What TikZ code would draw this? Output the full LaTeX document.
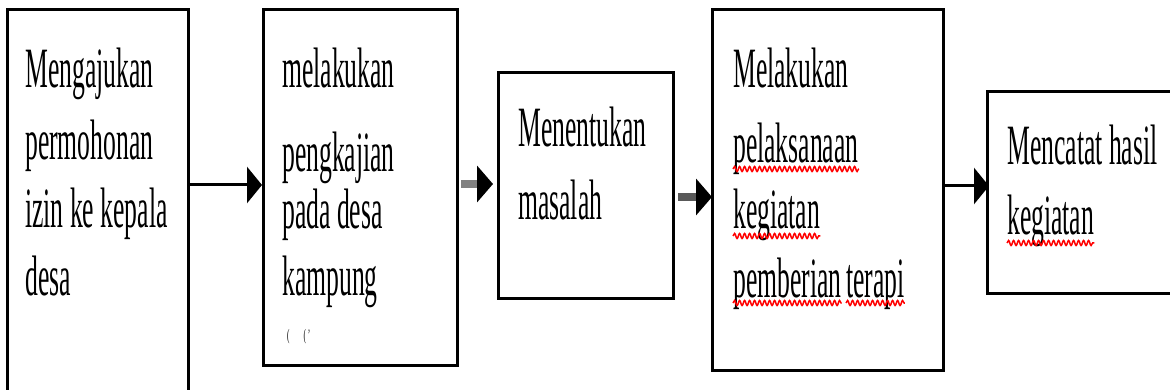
\documentclass[tikz,border=0pt]{standalone}
\usepackage{fontspec}
\setmainfont{Liberation Serif}[FakeStretch=0.45]
\usetikzlibrary{arrows.meta,decorations.pathmorphing}

\begin{document}
\begin{tikzpicture}[x=1pt,y=-1pt,
  box/.style={draw, line width=3pt, rectangle, anchor=north west, outer sep=0pt, inner sep=0pt},
  txt/.style={anchor=base west, inner sep=0pt, font=\fontsize{57}{60}\selectfont},
  arr/.style={line width=3pt, -{Triangle[length=15pt,width=36pt]}},
  thickarr/.style={line width=8pt, -{Triangle[length=16pt,width=36pt,color=black]}},
  squig/.style={draw=red, line width=1.5pt, decorate,
    decoration={snake, amplitude=2.5pt, segment length=5pt}}]

\useasboundingbox (0,0) rectangle (1170,390);

% process boxes
\node[box, minimum width=181pt, minimum height=400pt] (b1) at (7,10) {};
\node[box, minimum width=194pt, minimum height=355pt] (b2) at (263,10) {};
\node[box, minimum width=175pt, minimum height=225pt] (b3) at (498,73) {};
\node[box, minimum width=231pt, minimum height=360pt] (b4) at (712,10) {};
\node[box, minimum width=220pt, minimum height=201pt] (b5) at (987,92) {};

% box 1
\node[txt] (t1a) at (25,88)  {Mengajukan};
\node[txt] (t1b) at (25,160) {permohonan};
\node[txt] (t1c) at (25,228) {izin ke kepala};
\node[txt] (t1d) at (25,295) {desa};

% box 2
\node[txt] (t2a) at (282,88)  {melakukan};
\node[txt] (t2b) at (282,172) {pengkajian};
\node[txt] (t2c) at (282,229) {pada desa};
\node[txt] (t2d) at (282,295) {kampung};
\node[txt, font=\fontsize{16}{16}\selectfont] (t2e) at (287,340) {(\hspace{14pt}(\hspace{2pt}'};

% box 3
\node[txt] (t3a) at (518,147) {Menentukan};
\node[txt] (t3b) at (518,220) {masalah};

% box 4
\node[txt] (t4a) at (733,88)  {Melakukan};
\node[txt] (t4b) at (733,163) {pelaksanaan};
\node[txt] (t4c) at (733,229) {kegiatan};
\node[txt] (t4d) at (733,297) {pemberian};
\node[txt] (t4e) at (846,297) {terapi};

% box 5
\node[txt] (t5a) at (1007,165) {Mencatat hasil};
\node[txt] (t5b) at (1007,235) {kegiatan};

% spell-check underlines
\draw[squig] ([yshift=-6pt]t4b.base west) -- ([yshift=-6pt]t4b.base east);
\draw[squig] ([yshift=-7pt]t4c.base west) -- ([yshift=-7pt]t4c.base east);
\draw[squig] ([yshift=-6pt]t4d.base west) -- ([yshift=-6pt]t4d.base east);
\draw[squig] ([yshift=-6pt]t4e.base west) -- ([yshift=-6pt]t4e.base east);
\draw[squig] ([yshift=-8pt]t5b.base west) -- ([yshift=-8pt]t5b.base east);

% connectors
\draw[arr] (b1.east |- 0,185) -- ([xshift=-1pt]b2.west |- 0,185);
\draw[thickarr, draw=black!50] ([xshift=4pt]b2.east |- 0,184) -- ([xshift=-5pt]b3.west |- 0,184);
\draw[thickarr, draw=black!65] ([xshift=5pt]b3.east |- 0,197) -- (b4.west |- 0,197);
\draw[arr] (b4.east |- 0,186) -- ([xshift=2pt]b5.west |- 0,186);
\end{tikzpicture}
\end{document}
